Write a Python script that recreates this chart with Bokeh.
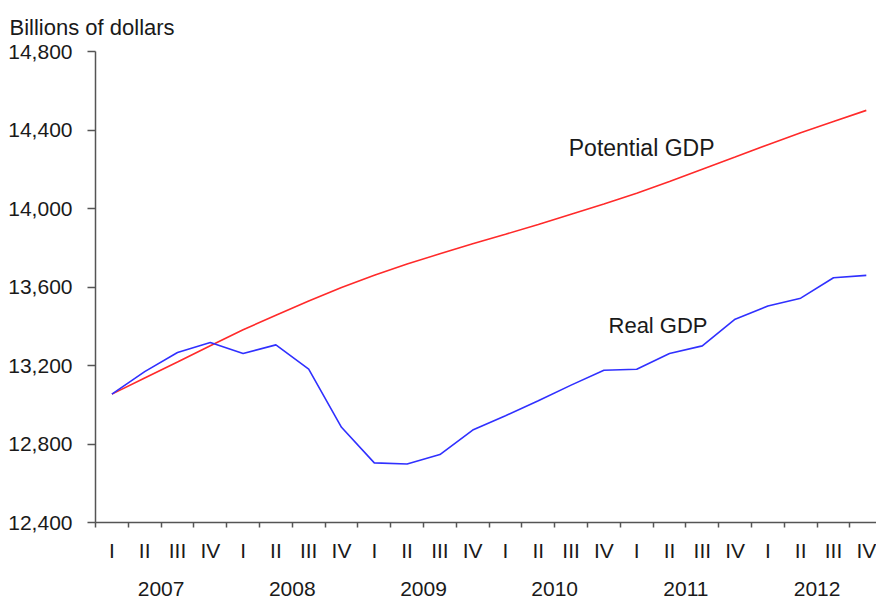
from bokeh.plotting import figure
from bokeh.models import Range1d, LinearAxis, FixedTicker, NumeralTickFormatter, ColumnDataSource
from bokeh.core.properties import value
from bokeh.embed import file_html
from bokeh.resources import INLINE

years = ["2007", "2008", "2009", "2010", "2011", "2012"]
quarters = ["I", "II", "III", "IV"]

real_gdp = [13054, 13169, 13266, 13317, 13261, 13305, 13181, 12885,
            12704, 12698, 12746, 12871, 12944, 13020, 13100, 13176,
            13181, 13261, 13300, 13436, 13503, 13543, 13647, 13659]
potential_gdp = [13054, 13136, 13218, 13301, 13382, 13456, 13529, 13598,
                 13660, 13717, 13769, 13820, 13869, 13919, 13971, 14023,
                 14078, 14137, 14200, 14262, 14325, 14386, 14443, 14500]
y_ticks = [12400, 12800, 13200, 13600, 14000, 14400, 14800]

n = len(real_gdp)
idx = list(range(n))
src = ColumnDataSource(dict(x=idx, real=real_gdp, pot=potential_gdp))

FONT = "Liberation Sans"
TXT = "#1a1a1a"
AX = "#555555"

W, H = 876, 602
LEFT, TOP, BOTTOM = 95, 50, 80
QW = 32.8  # pixels per quarter

p = figure(width=W, height=H, output_backend="svg", toolbar_location=None,
           x_range=Range1d(-0.5, -0.5 + (W - LEFT) / QW),
           y_range=Range1d(y_ticks[0], y_ticks[-1]),
           x_axis_location=None, y_axis_location="left",
           min_border_left=LEFT, min_border_right=0, min_border_top=TOP,
           min_border_bottom=BOTTOM)
p.outline_line_color = None
p.xgrid.visible = False
p.ygrid.visible = False
p.background_fill_color = "white"
p.border_fill_color = "white"

p.title.text = "Billions of dollars"
p.title.align = "left"
p.title.offset = -86
p.title.text_font = FONT
p.title.text_font_size = "22px"
p.title.text_font_style = "normal"
p.title.text_color = TXT
p.title.standoff = 24

ya = p.yaxis[0]
ya.ticker = FixedTicker(ticks=y_ticks)
ya.formatter = NumeralTickFormatter(format="0,0")
ya.major_label_text_font = FONT
ya.major_label_text_font_size = "21px"
ya.major_label_text_color = TXT
ya.major_tick_in = 0
ya.major_tick_out = 8
ya.minor_tick_line_color = None
ya.major_label_standoff = 15
ya.axis_line_color = AX
ya.axis_line_width = 1.5
ya.major_tick_line_color = AX
ya.major_tick_line_width = 1.5

year_bounds = [i * 4 - 0.5 for i in range(len(years) + 1)]
quarter_bounds = [i - 0.5 for i in range(n + 1)]

# quarter labels axis (with short ticks at quarter boundaries)
q_labels = {i: quarters[i % 4] for i in idx}
ax_q = LinearAxis(ticker=FixedTicker(ticks=idx, minor_ticks=quarter_bounds),
                  major_label_overrides=q_labels)
ax_q.axis_line_color = AX
ax_q.axis_line_width = 1.5
ax_q.major_tick_line_color = None
ax_q.major_tick_out = 0
ax_q.major_tick_in = 0
ax_q.minor_tick_line_color = AX
ax_q.minor_tick_line_width = 1.5
ax_q.minor_tick_in = 0
ax_q.minor_tick_out = 5
ax_q.major_label_standoff = 11
ax_q.major_label_text_font = FONT
ax_q.major_label_text_font_size = "21px"
ax_q.major_label_text_color = TXT
p.add_layout(ax_q, "below")

# year labels
y_centers = [i * 4 + 1.5 for i in range(len(years))]
y_labels = {c: yr for c, yr in zip(y_centers, years)}
ax_y = LinearAxis(ticker=FixedTicker(ticks=y_centers), major_label_overrides=y_labels)
ax_y.axis_line_color = None
ax_y.major_tick_line_color = None
ax_y.minor_tick_line_color = None
ax_y.major_tick_out = 0
ax_y.major_tick_in = 0
ax_y.major_label_standoff = 17
ax_y.major_label_text_font = FONT
ax_y.major_label_text_font_size = "21px"
ax_y.major_label_text_color = TXT
p.add_layout(ax_y, "below")

# longer ticks at year boundaries, drawn on the bottom edge of the frame
ax_b = LinearAxis(ticker=FixedTicker(ticks=[], minor_ticks=year_bounds),
                  fixed_location=y_ticks[0])
ax_b.axis_line_color = None
ax_b.major_tick_line_color = None
ax_b.minor_tick_line_color = AX
ax_b.minor_tick_line_width = 1.5
ax_b.minor_tick_in = 0
ax_b.minor_tick_out = 10
p.add_layout(ax_b, "below")

p.line("x", "pot", source=src, line_color="#ff2a2a", line_width=1.6)
p.line("x", "real", source=src, line_color="#3030ff", line_width=1.6)

p.text(x=[16.15], y=[14307], text=["Potential GDP"], text_font=value(FONT),
       text_font_size="23px", text_color=TXT, text_align="center", text_baseline="middle")
p.text(x=[16.65], y=[13402], text=["Real GDP"], text_font=value(FONT),
       text_font_size="22px", text_color=TXT, text_align="center", text_baseline="middle")

open("out.html", "w").write(file_html(p, INLINE))
